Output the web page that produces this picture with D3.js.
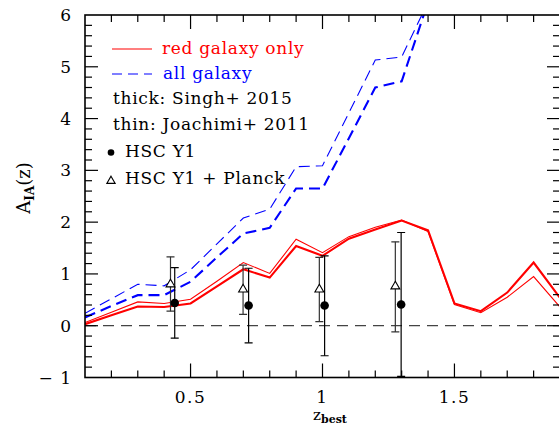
<!DOCTYPE html>
<html><head><meta charset="utf-8">
<script src="https://cdn.jsdelivr.net/npm/d3@7"></script>
<style>body{margin:0;background:#fff}svg{display:block}text{font-family:"DejaVu Serif",serif}</style>
</head><body><svg id="c" width="559" height="431"></svg>
<script>
// ---- data ----
const zGrid = [0.1,0.2,0.3,0.4,0.5,0.6,0.7,0.8,0.9,1.0,1.1,1.2,1.3,1.4,1.5,1.6,1.7,1.8,1.9];
const redThick = [0.03,0.20,0.37,0.36,0.43,0.76,1.09,0.93,1.54,1.35,1.68,1.86,2.03,1.84,0.43,0.28,0.64,1.22,0.54];
const redThin  = [0.06,0.26,0.46,0.43,0.51,0.86,1.22,1.01,1.67,1.41,1.72,1.90,2.04,1.82,0.41,0.25,0.55,0.95,0.36];
const allZ     = [0.1,0.2,0.3,0.4,0.5,0.6,0.7,0.8,0.9,1.0,1.1,1.2,1.3,1.4];
const allThick = [0.16,0.38,0.59,0.59,0.85,1.32,1.78,1.89,2.65,2.65,3.62,4.60,4.72,6.25];
const allThin  = [0.24,0.52,0.80,0.77,1.08,1.58,2.08,2.25,3.07,3.09,4.11,5.13,5.19,6.25];
const hscZ  = [0.44,0.72,1.008,1.298];
const hscA  = [0.44,0.39,0.39,0.41];
const hscLo = [-0.24,-0.33,-0.58,-0.98];
const hscHi = [1.12,1.11,1.35,1.80];
const plkZ  = [0.424,0.699,0.988,1.276];
const plkA  = [0.80,0.70,0.70,0.76];
const plkLo = [0.28,0.22,0.08,-0.12];
const plkHi = [1.33,1.17,1.32,1.62];
const xTickLabels = [0.5,1,1.5];
const yTickLabels = [-1,0,1,2,3,4,5,6];
const legendLines = ["red galaxy only","all galaxy","thick: Singh+ 2015","thin: Joachimi+ 2011","HSC Y1","HSC Y1 + Planck"];

// ---- layout ----
const L=85, R=560, T=15, B=377.5;
const svg=d3.select("#c");
const x=d3.scaleLinear().domain([0.1,1.9]).range([L,R]);
const y=d3.scaleLinear().domain([-1,6]).range([B,T]);

svg.append("clipPath").attr("id","clip").append("rect")
  .attr("x",L).attr("y",T).attr("width",R-L).attr("height",B-T);
const g=svg.append("g").attr("clip-path","url(#clip)");

// zero line
g.append("line").attr("x1",x(0.1)).attr("x2",x(1.9)).attr("y1",y(0)).attr("y2",y(0))
  .attr("stroke","#444").attr("stroke-width",1.3).attr("stroke-dasharray","11,7");

const line=d3.line().x(d=>x(d[0])).y(d=>y(d[1]));
function drawLine(zs,vs,color,w,dash){
  g.append("path").attr("d",line(zs.map((z,i)=>[z,vs[i]])))
   .attr("fill","none").attr("stroke",color).attr("stroke-width",w)
   .attr("stroke-linejoin","miter").attr("stroke-dasharray",dash||null);
}
drawLine(allZ,allThin,"#0000ff",1.1,"11,6");
drawLine(allZ,allThick,"#0000ff",2.1,"11,6");
drawLine(zGrid,redThin,"#ff0000",1.1);
drawLine(zGrid,redThick,"#ff0000",2.1);

// error bars
function errBars(zs,lo,hi,col){
  zs.forEach((z,i)=>{
    const xx=x(z);
    g.append("line").attr("x1",xx).attr("x2",xx).attr("y1",y(lo[i])).attr("y2",y(hi[i]))
     .attr("stroke",col).attr("stroke-width",1.2);
    [lo[i],hi[i]].forEach(v=>g.append("line").attr("x1",xx-4).attr("x2",xx+4)
     .attr("y1",y(v)).attr("y2",y(v)).attr("stroke",col).attr("stroke-width",1.2));
  });
}
errBars(plkZ,plkLo,plkHi,"#333");
errBars(hscZ,hscLo,hscHi,"#000");
const tri=d3.symbol().type(d3.symbolTriangle).size(34);
plkZ.forEach((z,i)=>g.append("path").attr("d",tri())
  .attr("transform",`translate(${x(z)},${y(plkA[i])})`)
  .attr("fill","#fff").attr("stroke","#000").attr("stroke-width",1.1));
hscZ.forEach((z,i)=>g.append("circle").attr("cx",x(z)).attr("cy",y(hscA[i])).attr("r",4.3).attr("fill","#000"));

// axes
const fr=svg.append("g").attr("stroke","#000");
fr.append("rect").attr("x",L).attr("y",T).attr("width",R-L).attr("height",B-T)
  .attr("fill","none").attr("stroke-width",1.6);
const xMinor=d3.range(2,19).map(i=>i/10);
xMinor.forEach(z=>{
  const major=xTickLabels.some(v=>Math.abs(v-z)<1e-6);
  const len=major?14:7;
  fr.append("line").attr("x1",x(z)).attr("x2",x(z)).attr("y1",B).attr("y2",B-len).attr("stroke-width",1.2);
  fr.append("line").attr("x1",x(z)).attr("x2",x(z)).attr("y1",T).attr("y2",T+len).attr("stroke-width",1.2);
});
const yMinor=d3.range(-4,30).map(i=>i/5);
yMinor.forEach(v=>{
  const major=Math.abs(v-Math.round(v))<1e-6;
  const len=major?13:7;
  fr.append("line").attr("x1",L).attr("x2",L+len).attr("y1",y(v)).attr("y2",y(v)).attr("stroke-width",1.2);
  fr.append("line").attr("x1",R).attr("x2",R-len).attr("y1",y(v)).attr("y2",y(v)).attr("stroke-width",1.2);
});
xTickLabels.forEach(v=>svg.append("text").attr("x",x(v)).attr("y",403)
  .attr("text-anchor","middle").attr("font-size",17).attr("letter-spacing",1.5).text(v));
yTickLabels.forEach(v=>svg.append("text").attr("x",72).attr("y",y(v)+6)
  .attr("text-anchor","end").attr("font-size",17).attr("letter-spacing",1).text(v<0?"\u2212 "+(-v):v));

// axis titles
const xt=svg.append("text").attr("x",330).attr("y",420).attr("text-anchor","middle").attr("font-size",15);
xt.append("tspan").text("z");
xt.append("tspan").attr("dy",3).attr("font-size",11).attr("font-weight","bold").text("best");
const yt=svg.append("text").attr("transform","translate(30,188) rotate(-90)").attr("text-anchor","middle").attr("font-size",18);
yt.append("tspan").text("A");
yt.append("tspan").attr("dy",4).attr("font-size",12).attr("font-weight","bold").text("IA");
yt.append("tspan").attr("dy",-4).text("(z)");

// legend
svg.append("line").attr("x1",112).attr("x2",152).attr("y1",49).attr("y2",49).attr("stroke","#ff0000").attr("stroke-width",1.2);
svg.append("line").attr("x1",112).attr("x2",152).attr("y1",74).attr("y2",74).attr("stroke","#0000ff").attr("stroke-width",1.2).attr("stroke-dasharray","10,6");
const lx=[162,163,113,113,125,125], ly=[54,79,104,130,157,184], lc=["#ff0000","#0000ff","#000","#000","#000","#000"];
legendLines.forEach((t,i)=>svg.append("text").attr("x",lx[i]).attr("y",ly[i]).attr("font-size",17)
  .attr("letter-spacing",0.7).attr("fill",lc[i]).text(t));
svg.append("circle").attr("cx",111).attr("cy",152.5).attr("r",3.3).attr("fill","#000");
svg.append("path").attr("d",d3.symbol().type(d3.symbolTriangle).size(30)()).attr("transform","translate(111,181)")
  .attr("fill","none").attr("stroke","#000").attr("stroke-width",1.1);
</script></body></html>
